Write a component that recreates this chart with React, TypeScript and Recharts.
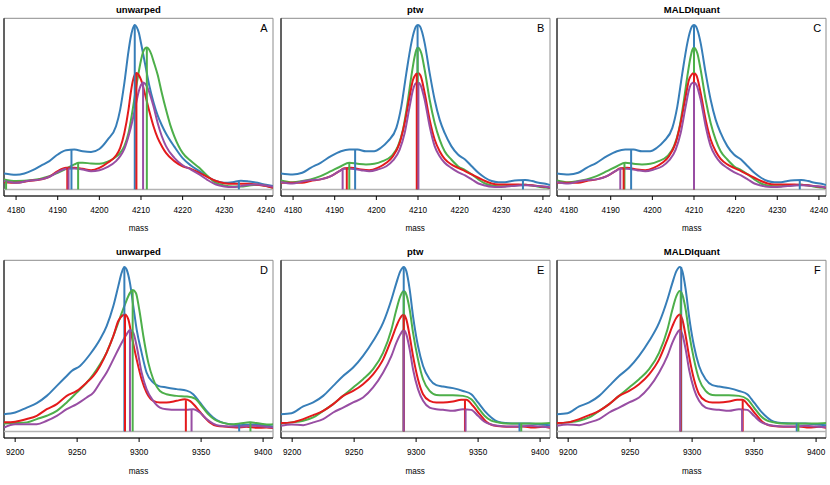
import { LineChart, Line, XAxis, YAxis, ReferenceLine, ReferenceArea } from "recharts"

// spectra: [mass, relative intensity]
type Pt = [number, number]
// peaks: [spectrum, mass, intensity]
type Peak = [string, number, number]

const COLORS: Record<string, string> = {
  blue: "#377EB8",
  green: "#4DAF4A",
  red: "#E41A1C",
  purple: "#984EA3",
}

const titles = ["unwarped", "ptw", "MALDIquant"]
const lettersTop = ["A", "B", "C"]
const lettersBottom = ["D", "E", "F"]

const ticksTop = [4180, 4190, 4200, 4210, 4220, 4230, 4240]
const ticksBottom = [9200, 9250, 9300, 9350, 9400]
const domainTop: [number, number] = [4177.1, 4241.7]
const domainBottom: [number, number] = [9191, 9408]

// --- m/z ~4210, unwarped
const aBlue: Pt[] = [[4177.1,0.097],[4180,0.089],[4182,0.097],[4184,0.117],[4186,0.145],[4188,0.172],[4190,0.212],[4192,0.238],[4194,0.242],[4196,0.232],[4198,0.228],[4200,0.246],[4202,0.303],[4204,0.384],[4205,0.485],[4206,0.646],[4207,0.84],[4207.5,0.92],[4208,0.975],[4208.5,1],[4209,0.985],[4209.5,0.95],[4210,0.89],[4211,0.76],[4212,0.63],[4213,0.53],[4214,0.45],[4215,0.39],[4216,0.34],[4218,0.26],[4220,0.19],[4222,0.145],[4224,0.111],[4226,0.077],[4228,0.051],[4230,0.04],[4232,0.044],[4234,0.053],[4236,0.048],[4238,0.04],[4240,0.028],[4241.7,0.02]]
const aGreen: Pt[] = [[4177.1,0.061],[4180,0.051],[4184,0.057],[4188,0.081],[4190,0.101],[4192,0.125],[4194,0.152],[4195,0.162],[4196,0.162],[4198,0.158],[4200,0.156],[4202,0.168],[4204,0.198],[4205,0.222],[4206,0.263],[4207,0.343],[4208,0.485],[4209,0.646],[4210,0.785],[4210.5,0.835],[4211,0.858],[4211.4,0.863],[4211.9,0.852],[4212.5,0.82],[4213,0.78],[4214,0.697],[4215,0.586],[4216,0.485],[4217,0.394],[4218,0.323],[4220,0.222],[4222,0.172],[4224,0.131],[4226,0.081],[4228,0.04],[4230,0.024],[4232,0.018],[4234,0.018],[4236,0.024],[4238,0.028],[4240,0.022],[4241.7,0.01]]
const aRed: Pt[] = [[4177.1,0.044],[4180,0.04],[4183,0.051],[4186,0.061],[4188,0.077],[4190,0.111],[4192,0.131],[4194,0.131],[4196,0.125],[4198,0.117],[4200,0.131],[4202,0.162],[4204,0.206],[4205,0.253],[4206,0.343],[4207,0.485],[4207.5,0.58],[4208,0.655],[4208.5,0.697],[4208.9,0.707],[4209.4,0.698],[4210,0.667],[4211,0.576],[4212,0.475],[4213,0.384],[4214,0.313],[4215,0.263],[4216,0.222],[4218,0.172],[4220,0.141],[4222,0.125],[4224,0.101],[4226,0.075],[4228,0.051],[4230,0.038],[4232,0.034],[4234,0.034],[4236,0.034],[4238,0.028],[4240,0.02],[4241.7,0.01]]
const aPurple: Pt[] = [[4177.1,0.051],[4180,0.04],[4183,0.053],[4186,0.061],[4188,0.077],[4190,0.105],[4192,0.125],[4194,0.127],[4196,0.121],[4198,0.111],[4200,0.117],[4202,0.137],[4204,0.172],[4205,0.202],[4206,0.246],[4207,0.323],[4208,0.424],[4209,0.545],[4209.5,0.6],[4210,0.635],[4210.5,0.65],[4211,0.642],[4211.5,0.622],[4212,0.59],[4213,0.505],[4214,0.404],[4215,0.323],[4216,0.263],[4218,0.192],[4220,0.147],[4222,0.121],[4224,0.091],[4226,0.057],[4228,0.03],[4230,0.018],[4232,0.014],[4234,0.02],[4236,0.028],[4238,0.03],[4240,0.024],[4241.7,0.016]]

// --- m/z ~4210, warped (ptw and MALDIquant agree)
const bBlue: Pt[] = [[4177.1,0.097],[4179.9,0.091],[4182.2,0.101],[4184.2,0.131],[4186.6,0.162],[4189.1,0.202],[4191.5,0.232],[4193.5,0.242],[4195.5,0.242],[4197.5,0.232],[4199.5,0.232],[4201.1,0.253],[4202.8,0.293],[4204.8,0.374],[4206,0.505],[4207.2,0.707],[4208.4,0.889],[4209,0.955],[4209.5,0.99],[4210,1],[4210.5,0.99],[4211,0.955],[4211.6,0.889],[4212.8,0.707],[4214,0.545],[4215.2,0.424],[4216.4,0.343],[4218,0.263],[4219.6,0.212],[4221.3,0.182],[4222.9,0.141],[4224.5,0.101],[4226.1,0.071],[4227.7,0.051],[4229.3,0.044],[4230.9,0.044],[4232.5,0.051],[4234.1,0.055],[4235.8,0.057],[4237.4,0.051],[4239,0.04],[4240.6,0.034],[4241.7,0.026]]
const bGreen: Pt[] = [[4177.1,0.055],[4179.8,0.044],[4182.2,0.051],[4184.2,0.061],[4186.6,0.081],[4189.1,0.111],[4191.5,0.141],[4193.5,0.162],[4195.5,0.156],[4197.5,0.152],[4199.5,0.156],[4201.5,0.172],[4203.6,0.202],[4205.2,0.263],[4206.4,0.364],[4207.6,0.545],[4208.4,0.687],[4209.2,0.808],[4209.6,0.848],[4210,0.863],[4210.4,0.852],[4210.8,0.828],[4211.6,0.727],[4212.8,0.545],[4214,0.404],[4215.2,0.303],[4216.4,0.232],[4218,0.182],[4219.6,0.141],[4221.3,0.117],[4222.9,0.091],[4224.5,0.061],[4226.1,0.036],[4227.7,0.024],[4229.3,0.02],[4230.9,0.02],[4232.5,0.024],[4234.1,0.026],[4235.8,0.028],[4237.4,0.024],[4239,0.016],[4240.6,0.012],[4241.7,0.008]]
const bRed: Pt[] = [[4177.1,0.04],[4179.8,0.04],[4182.2,0.04],[4184.2,0.051],[4186.6,0.061],[4189.1,0.081],[4191.1,0.111],[4192.3,0.129],[4193.9,0.131],[4196.3,0.121],[4198.3,0.117],[4200.3,0.131],[4202.4,0.162],[4204,0.202],[4205.6,0.283],[4206.8,0.404],[4208,0.566],[4208.8,0.667],[4209.4,0.697],[4210,0.707],[4210.6,0.692],[4211.6,0.586],[4212.8,0.424],[4214,0.303],[4215.2,0.232],[4216.4,0.186],[4218,0.152],[4219.6,0.131],[4221.3,0.111],[4222.9,0.091],[4224.5,0.071],[4226.1,0.051],[4227.7,0.036],[4229.3,0.03],[4230.9,0.03],[4232.5,0.03],[4234.1,0.03],[4235.8,0.028],[4237.4,0.026],[4239,0.02],[4240.6,0.016],[4241.7,0.01]]
const bPurple: Pt[] = [[4177.1,0.044],[4179.8,0.036],[4182.2,0.048],[4184.2,0.057],[4186.6,0.061],[4189.1,0.081],[4191.1,0.111],[4192.3,0.125],[4193.9,0.125],[4196.3,0.117],[4198.3,0.111],[4200.3,0.121],[4202.4,0.141],[4204,0.176],[4205.6,0.242],[4206.8,0.343],[4208,0.505],[4208.8,0.606],[4209.4,0.643],[4210,0.65],[4210.6,0.635],[4211.6,0.545],[4212.8,0.384],[4214,0.263],[4215.2,0.202],[4216.4,0.162],[4218,0.131],[4219.6,0.105],[4221.3,0.085],[4222.9,0.061],[4224.5,0.036],[4226.1,0.024],[4227.7,0.016],[4229.3,0.014],[4230.9,0.016],[4232.5,0.02],[4234.1,0.024],[4235.8,0.026],[4237.4,0.024],[4239,0.02],[4240.6,0.016],[4241.7,0.01]]

// --- m/z ~9290, unwarped
const dBlue: Pt[] = [[9191,0.105],[9200,0.115],[9209.4,0.145],[9217.4,0.172],[9225.5,0.216],[9233.6,0.277],[9241.6,0.337],[9245.6,0.367],[9252.3,0.398],[9260.4,0.469],[9268.5,0.56],[9273.8,0.64],[9279.2,0.762],[9283.2,0.883],[9285.9,0.964],[9288.1,1],[9289.9,0.984],[9292.6,0.903],[9295.3,0.762],[9298,0.62],[9302,0.479],[9306,0.358],[9311.4,0.297],[9315.4,0.277],[9322.1,0.267],[9330.2,0.257],[9338.3,0.248],[9343.6,0.226],[9349,0.176],[9354.4,0.125],[9359.7,0.085],[9365.1,0.059],[9373.2,0.044],[9381.2,0.038],[9391.9,0.042],[9400,0.038],[9408,0.03]]
const dGreen: Pt[] = [[9191,0.048],[9200,0.051],[9209.4,0.055],[9217.4,0.075],[9225.5,0.095],[9233.6,0.125],[9241.6,0.176],[9249.7,0.236],[9257.7,0.297],[9263.1,0.347],[9268.5,0.408],[9273.8,0.479],[9279.2,0.58],[9284.6,0.691],[9288.6,0.772],[9292.6,0.842],[9294.8,0.859],[9297.4,0.842],[9300.1,0.741],[9303.4,0.58],[9307.4,0.418],[9311.4,0.317],[9316.8,0.246],[9322.1,0.226],[9330.2,0.216],[9338.3,0.212],[9345,0.2],[9350.3,0.156],[9355.7,0.105],[9361.1,0.071],[9366.4,0.055],[9373.2,0.044],[9381.2,0.048],[9389.3,0.055],[9397.3,0.048],[9405.4,0.042],[9408,0.044]]
const dRed: Pt[] = [[9191,0.055],[9200,0.059],[9209.4,0.075],[9217.4,0.095],[9225.5,0.135],[9233.6,0.166],[9241.6,0.216],[9249.7,0.246],[9257.7,0.297],[9263.1,0.337],[9268.5,0.398],[9273.8,0.479],[9279.2,0.58],[9283.2,0.671],[9286.7,0.705],[9288.6,0.711],[9291.3,0.681],[9294,0.58],[9298,0.438],[9302,0.317],[9306,0.236],[9311.4,0.186],[9316.8,0.176],[9322.1,0.176],[9330.2,0.186],[9336.9,0.196],[9340.9,0.186],[9346.3,0.145],[9351.7,0.095],[9357,0.055],[9362.4,0.034],[9370.5,0.028],[9378.5,0.024],[9386.6,0.028],[9394.6,0.022],[9402.7,0.024],[9408,0.02]]
const dPurple: Pt[] = [[9191,0.024],[9200,0.044],[9209.4,0.044],[9217.4,0.044],[9225.5,0.065],[9233.6,0.095],[9241.6,0.135],[9249.7,0.166],[9257.7,0.206],[9263.1,0.236],[9268.5,0.297],[9273.8,0.358],[9279.2,0.438],[9284.6,0.519],[9289.9,0.59],[9292.6,0.616],[9295.3,0.6],[9298,0.519],[9302,0.358],[9306,0.257],[9311.4,0.186],[9316.8,0.145],[9322.1,0.135],[9330.2,0.131],[9338.3,0.131],[9343.6,0.135],[9349,0.115],[9354.4,0.075],[9359.7,0.048],[9365.1,0.034],[9373.2,0.03],[9381.2,0.03],[9391.9,0.034],[9400,0.03],[9408,0.024]]

// --- m/z ~9290, warped (ptw and MALDIquant agree)
const eBlue: Pt[] = [[9191,0.105],[9199.5,0.111],[9208.9,0.152],[9217,0.176],[9225,0.216],[9233.1,0.277],[9241.1,0.337],[9249.2,0.388],[9257.2,0.459],[9265.3,0.549],[9273.4,0.661],[9280.1,0.802],[9284.1,0.903],[9287.3,0.974],[9290,1],[9292.1,0.974],[9294.8,0.863],[9297.5,0.701],[9301.5,0.519],[9305.6,0.398],[9310.9,0.317],[9316.3,0.281],[9321.7,0.273],[9329.7,0.263],[9337.8,0.246],[9344.5,0.226],[9349.9,0.176],[9355.2,0.125],[9360.6,0.085],[9366,0.059],[9372.7,0.051],[9380.7,0.048],[9391.5,0.048],[9399.5,0.042],[9408,0.038]]
const eGreen: Pt[] = [[9191,0.048],[9199.5,0.055],[9208.9,0.065],[9217,0.085],[9225,0.125],[9233.1,0.166],[9241.1,0.216],[9249.2,0.267],[9257.2,0.317],[9265.3,0.378],[9273.4,0.479],[9280.1,0.62],[9284.1,0.741],[9287.3,0.822],[9290,0.853],[9292.1,0.832],[9294.8,0.741],[9297.5,0.6],[9301.5,0.438],[9305.6,0.317],[9310.9,0.246],[9316.3,0.222],[9321.7,0.22],[9329.7,0.22],[9337.8,0.216],[9344.5,0.196],[9349.9,0.145],[9355.2,0.095],[9360.6,0.065],[9366,0.055],[9372.7,0.048],[9380.7,0.048],[9391.5,0.048],[9399.5,0.048],[9408,0.051]]
const eRed: Pt[] = [[9191,0.051],[9199.5,0.055],[9208.9,0.075],[9217,0.099],[9225,0.125],[9233.1,0.166],[9241.1,0.216],[9249.2,0.246],[9257.2,0.287],[9265.3,0.347],[9273.4,0.438],[9280.1,0.56],[9284.1,0.64],[9287.3,0.691],[9290,0.711],[9292.1,0.681],[9294.8,0.58],[9297.5,0.459],[9301.5,0.317],[9305.6,0.226],[9310.9,0.186],[9316.3,0.176],[9321.7,0.176],[9329.7,0.182],[9336.4,0.192],[9340.5,0.192],[9345.8,0.156],[9351.2,0.105],[9356.6,0.059],[9361.9,0.038],[9370,0.03],[9378.1,0.028],[9386.1,0.03],[9394.2,0.024],[9402.2,0.028],[9408,0.022]]
const ePurple: Pt[] = [[9191,0.034],[9199.5,0.042],[9208.9,0.038],[9217,0.055],[9225,0.075],[9233.1,0.115],[9241.1,0.145],[9249.2,0.176],[9257.2,0.206],[9265.3,0.267],[9273.4,0.358],[9280.1,0.459],[9284.1,0.539],[9287.3,0.59],[9290,0.616],[9292.1,0.59],[9294.8,0.499],[9297.5,0.378],[9301.5,0.257],[9305.6,0.186],[9310.9,0.145],[9316.3,0.135],[9321.7,0.131],[9329.7,0.125],[9337.8,0.135],[9344.5,0.131],[9349.9,0.095],[9355.2,0.059],[9360.6,0.042],[9366,0.034],[9372.7,0.03],[9380.7,0.03],[9391.5,0.034],[9399.5,0.03],[9408,0.026]]

// detected peaks
const peaksA: Peak[] = [["blue",4193.3,0.242],["red",4192.3,0.131],["purple",4192.6,0.125],["green",4194.9,0.162],["green",4177.6,0.05],["blue",4208.5,1],["red",4208.9,0.707],["purple",4210.5,0.65],["green",4211.4,0.863],["blue",4233.5,0.05]]
const peaksB: Peak[] = [["blue",4194.9,0.242],["green",4193.5,0.162],["red",4192.9,0.131],["purple",4191.9,0.125],["blue",4209.9,1],["green",4209.9,0.863],["red",4209.7,0.707],["purple",4210.1,0.65],["blue",4235.2,0.057]]
const peaksC: Peak[] = [["blue",4194.9,0.242],["green",4193.3,0.162],["red",4193.1,0.131],["purple",4192.3,0.125],["blue",4210,1],["green",4210,0.863],["red",4210,0.707],["purple",4210,0.65],["blue",4235.4,0.057]]
const peaksD: Peak[] = [["blue",9288.1,1],["red",9288.6,0.711],["purple",9292.6,0.616],["green",9294.8,0.859],["red",9337.7,0.19],["purple",9342.3,0.135],["blue",9380.7,0.044],["green",9389.8,0.058]]
const peaksE: Peak[] = [["blue",9290,1],["green",9290,0.853],["red",9290,0.711],["purple",9290,0.616],["red",9339.4,0.19],["purple",9339.9,0.135],["blue",9383.4,0.05],["green",9384.8,0.05]]
const peaksF: Peak[] = [["blue",9291.2,1],["green",9290.8,0.853],["red",9290.8,0.711],["purple",9290.4,0.616],["red",9340.8,0.19],["purple",9340.3,0.135],["blue",9384.4,0.05],["green",9385.7,0.05]]

const PANEL_W = 830 / 3
const ROW_H = 242.4
const FONT = "'Liberation Sans', Arial, sans-serif"

type PanelProps = {
  col: number
  row: number
  title: string
  letter: string
  spectra: [string, Pt[]][]
  peaks: Peak[]
  domain: [number, number]
  ticks: number[]
}

function Panel({ col, row, title, letter, spectra, peaks, domain, ticks }: PanelProps) {
  const label = (x: number, y: number, size: number, text: string, bold = false) => (
    <div
      style={{
        position: "absolute",
        left: x,
        top: y,
        transform: "translate(-50%, -50%)",
        fontSize: size,
        fontWeight: bold ? "bold" : "normal",
        whiteSpace: "nowrap",
        lineHeight: 1,
        color: "#000",
      }}
    >
      {text}
    </div>
  )
  return (
    <div style={{ position: "absolute", left: col * PANEL_W, top: row * ROW_H, width: 277, height: 242 }}>
      <LineChart width={277} height={242} margin={{ top: 18.3, right: 4, bottom: 16, left: 4 }}>
        <XAxis
          type="number"
          dataKey="m"
          domain={domain}
          ticks={ticks}
          allowDataOverflow
          height={30}
          tickSize={4}
          tickMargin={7.5}
          stroke="#000"
          tick={{ fontSize: 8.2, fill: "#000", fontFamily: FONT }}
        />
        <YAxis hide type="number" domain={[-0.04, 1.04]} allowDataOverflow />
        <ReferenceArea x1={domain[0]} x2={domain[1]} y1={-0.04} y2={1.04} fill="none" stroke="#8c8c8c" />
        <ReferenceLine x={domain[0]} stroke="#000" />
        <ReferenceLine y={0} stroke="#b3b3b3" strokeWidth={1.5} />
        {spectra.map(([name, pts]) => (
          <Line
            key={name}
            data={pts.map(([m, v]) => ({ m, v }))}
            dataKey="v"
            type="monotone"
            dot={false}
            stroke={COLORS[name]}
            strokeWidth={2}
            isAnimationActive={false}
          />
        ))}
        {peaks.map(([name, m, h], i) => (
          <ReferenceLine
            key={i}
            segment={[{ x: m, y: 0 }, { x: m, y: h }]}
            stroke={COLORS[name]}
            strokeWidth={2}
          />
        ))}
      </LineChart>
      {label(138.5, 10, 9.5, title, true)}
      {label(264, 27.5, 11, letter)}
      {label(138.5, 229.3, 8.2, "mass")}
    </div>
  )
}

export default function App() {
  const topUnwarped: [string, Pt[]][] = [["blue", aBlue], ["green", aGreen], ["red", aRed], ["purple", aPurple]]
  const topWarped: [string, Pt[]][] = [["blue", bBlue], ["green", bGreen], ["red", bRed], ["purple", bPurple]]
  const botUnwarped: [string, Pt[]][] = [["blue", dBlue], ["green", dGreen], ["red", dRed], ["purple", dPurple]]
  const botWarped: [string, Pt[]][] = [["blue", eBlue], ["green", eGreen], ["red", eRed], ["purple", ePurple]]
  const topPeaks = [peaksA, peaksB, peaksC]
  const botPeaks = [peaksD, peaksE, peaksF]

  return (
    <div
      style={{
        position: "absolute",
        left: 0,
        top: 0,
        width: 830,
        height: 485,
        background: "#fff",
        fontFamily: FONT,
        color: "#000",
      }}
    >
      {titles.map((t, i) => (
        <Panel
          key={"t" + i}
          col={i}
          row={0}
          title={t}
          letter={lettersTop[i]}
          spectra={i === 0 ? topUnwarped : topWarped}
          peaks={topPeaks[i]}
          domain={domainTop}
          ticks={ticksTop}
        />
      ))}
      {titles.map((t, i) => (
        <Panel
          key={"b" + i}
          col={i}
          row={1}
          title={t}
          letter={lettersBottom[i]}
          spectra={i === 0 ? botUnwarped : botWarped}
          peaks={botPeaks[i]}
          domain={domainBottom}
          ticks={ticksBottom}
        />
      ))}
    </div>
  )
}
